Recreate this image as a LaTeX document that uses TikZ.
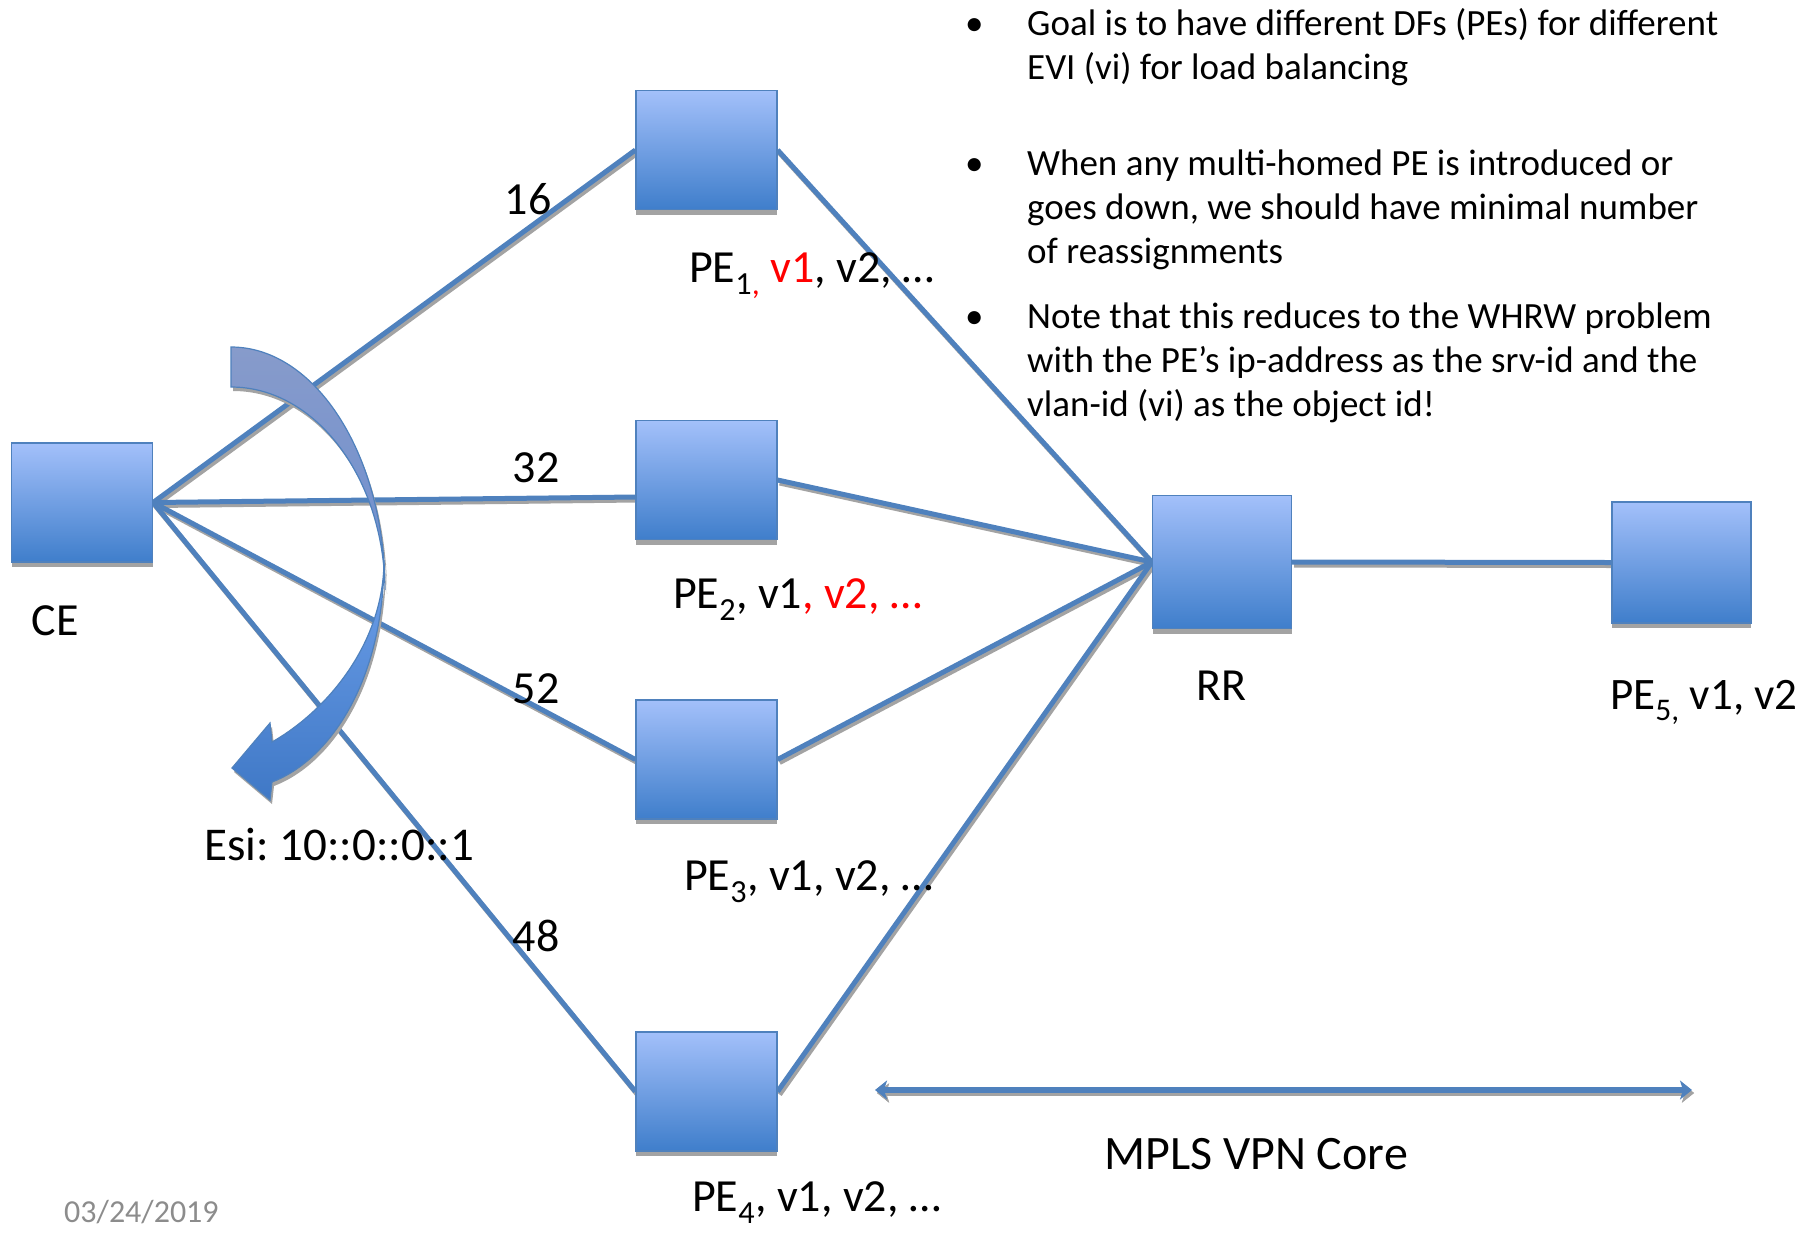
\documentclass[tikz,border=0pt]{standalone}
\usepackage{fontspec}
\setmainfont{Carlito}
\usetikzlibrary{calc,arrows.meta,shadows,backgrounds}

\definecolor{lineblue}{HTML}{4F81BD}
\definecolor{boxtop}{HTML}{A3C0FA}
\definecolor{boxbot}{HTML}{3F7ECB}
\definecolor{shadowgray}{HTML}{A3A3A3}
\definecolor{bandtop}{HTML}{879BCB}
\definecolor{bandmid}{HTML}{6D8ECE}
\definecolor{bandlight}{HTML}{6EA0EA}
\definecolor{banddark}{HTML}{3F78C6}
\definecolor{datecol}{HTML}{8C8C8C}

\tikzset{
  router/.style={rectangle, inner sep=0pt, minimum width=141pt, minimum height=119pt,
    top color=boxtop, bottom color=boxbot, draw=lineblue, line width=1.2pt,
    drop shadow={shadow xshift=0pt, shadow yshift=-5pt, fill=shadowgray, opacity=1}},
  link/.style={draw=lineblue, line width=5pt,
    preaction={draw=shadowgray, line width=5pt, transform canvas={shift={(2pt,-3pt)}}}},
  lbl/.style={inner sep=0pt, font=\fontsize{46}{55}\selectfont},
  num/.style={inner sep=0pt, font=\fontsize{46}{55}\selectfont},
  bullettxt/.style={inner sep=0pt, anchor=base west, font=\fontsize{37}{44}\selectfont},
  band/.style={draw=lineblue, line width=1.2pt,
    drop shadow={shadow xshift=2pt, shadow yshift=-4pt, fill=shadowgray, opacity=1}},
}

\begin{document}
\frenchspacing
\begin{tikzpicture}[x=1pt, y=-1pt]
\useasboundingbox (0,0) rectangle (1817,1232);

% routers
\node[router] (CE) at (82,502.5) {};
\node[router] (PE1) at (706.5,150) {};
\node[router] (PE2) at (706.5,480) {};
\node[router] (PE3) at (706.5,759.5) {};
\node[router] (PE4) at (706.5,1091.5) {};
\node[router, minimum width=139pt, minimum height=133pt] (RR) at (1222,562) {};
\node[router, minimum width=139pt, minimum height=121pt] (PE5) at (1681.5,562.5) {};

% links
\begin{scope}[on background layer]
  \draw[link] (CE.east) -- (PE1.west);
  \draw[link] (CE.east) -- ([yshift=-17pt]PE2.west);
  \draw[link] (CE.east) -- (PE3.west);
  \draw[link] (CE.east) -- (PE4.west);
  \draw[link] (PE1.east) -- (RR.west);
  \draw[link] (PE2.east) -- (RR.west);
  \draw[link] (PE3.east) -- (RR.west);
  \draw[link] (PE4.east) -- (RR.west);
  \draw[link] (RR.east) -- (PE5.west);
\end{scope}

% curved arrow over the CE links
\shade[band, top color=bandtop, bottom color=bandmid]
  (231,347) .. controls (316,347) and (385,456) .. (385,590)
  .. controls (384,478) and (315.5,387) .. (231,387) -- cycle;
\shade[band, top color=bandlight, bottom color=banddark]
  (384,560) .. controls (384,680) and (330,760) .. (272,782)
  -- (270,800) -- (232,768) -- (270,723) -- (272,742)
  .. controls (325,712) and (384,645) .. (384,560) -- cycle;

% link weights
\node[num] (w16) at (528,199) {16};
\node[num] (w32) at (536,468) {32};
\node[num] (w52) at (536,689) {52};
\node[num] (w48) at (536,936) {48};

% node labels
\node[lbl] (CElbl) at (55,621) {CE};
\node[lbl, anchor=base west] (PE1lbl) at (689,282)
  {PE\textsubscript{1\textcolor{red}{,}} \textcolor{red}{v1}, v2, …};
\node[lbl, anchor=base west] (PE2lbl) at (673,608)
  {PE\textsubscript{2}, v1\textcolor{red}{, v2, …}};
\node[lbl, anchor=base west] (PE3lbl) at (684,890)
  {PE\textsubscript{3}, v1, v2, …};
\node[lbl, anchor=base west] (PE4lbl) at (692,1211)
  {PE\textsubscript{4}, v1, v2, …};
\node[lbl] (RRlbl) at (1221,686) {RR};
\node[lbl, anchor=base west, font=\fontsize{45}{54}\selectfont] (PE5lbl) at (1610,709)
  {PE\textsubscript{5,} v1, v2};
\node[lbl, anchor=base west, font=\fontsize{47}{56}\selectfont] (esi) at (204,860) {Esi: 10::0::0::1};

% core span
\coordinate (coreL) at (875,1090);
\coordinate (coreR) at (1692,1090);
\draw[link, line width=6pt, {Stealth[length=12pt,width=19pt,inset=3pt]}-{Stealth[length=12pt,width=19pt,inset=3pt]},
  preaction={draw=shadowgray, line width=6pt, transform canvas={shift={(2pt,-3pt)}}}] (coreL) -- (coreR);
\node[lbl, anchor=base west, font=\fontsize{48}{57}\selectfont] (core) at (1104,1169) {MPLS VPN Core};

% notes
\node[bullettxt] (g1) at (965,35) {•};
\node[bullettxt] (g1a) at (1027,35) {Goal is to have different DFs (PEs) for different};
\node[bullettxt] (g1b) at (1027,79) {EVI (vi) for load balancing};
\node[bullettxt] (g2) at (965,175) {•};
\node[bullettxt] (g2a) at (1027,175) {When any multi-homed PE is introduced or};
\node[bullettxt] (g2b) at (1027,219) {goes down, we should have minimal number};
\node[bullettxt] (g2c) at (1027,263) {of reassignments};
\node[bullettxt] (g3) at (965,328) {•};
\node[bullettxt] (g3a) at (1027,328) {Note that this reduces to the WHRW problem};
\node[bullettxt] (g3b) at (1027,372) {with the PE’s ip-address as the srv-id and the};
\node[bullettxt] (g3c) at (1027,416) {vlan-id (vi) as the object id!};

% date
\node[inner sep=0pt, anchor=base west, text=datecol, font=\fontsize{32}{36}\selectfont] (date) at (64,1222) {03/24/2019};
\end{tikzpicture}
\end{document}
